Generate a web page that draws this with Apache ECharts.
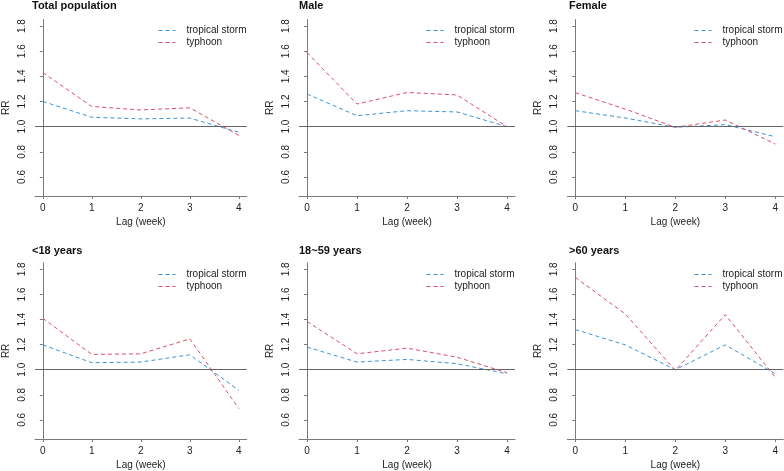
<!DOCTYPE html>
<html>
<head>
<meta charset="utf-8">
<script src="https://cdn.jsdelivr.net/npm/echarts@6/dist/echarts.min.js"></script>
<style>
html,body{margin:0;padding:0;background:#fff;}
#chart{width:784px;height:471px;}
</style>
</head>
<body>
<div id="chart"></div>
<script>
// ---- data ----
const lags = [0, 1, 2, 3, 4];
const panelTitles = ['Total population', 'Male', 'Female', '<18 years', '18~59 years', '>60 years'];
const seriesNames = ['tropical storm', 'typhoon'];
const yTicks = [0.6, 0.8, 1.0, 1.2, 1.4, 1.6, 1.8];

const stormTotal = [1.20, 1.075, 1.062, 1.068, 0.955];
const typhoonTotal = [1.43, 1.16, 1.133, 1.15, 0.93];
const stormMale = [1.26, 1.087, 1.127, 1.117, 1.0];
const typhoonMale = [1.59, 1.18, 1.272, 1.252, 1.0];
const stormFemale = [1.127, 1.069, 0.995, 1.016, 0.92];
const typhoonFemale = [1.27, 1.14, 0.995, 1.053, 0.862];
const stormU18 = [1.198, 1.056, 1.061, 1.119, 0.836];
const typhoonU18 = [1.41, 1.122, 1.127, 1.246, 0.69];
const storm1859 = [1.18, 1.061, 1.082, 1.048, 0.968];
const typhoon1859 = [1.384, 1.127, 1.172, 1.10, 0.976];
const storm60 = [1.32, 1.198, 1.0, 1.198, 0.968];
const typhoon60 = [1.735, 1.444, 0.995, 1.439, 0.94];

const stormSets = [stormTotal, stormMale, stormFemale, stormU18, storm1859, storm60];
const typhoonSets = [typhoonTotal, typhoonMale, typhoonFemale, typhoonU18, typhoon1859, typhoon60];

// ---- layout ----
const colLeft = [31.3, 299, 567.3];
const colWidth = [215.4, 216, 216];
const rowTop = [19.5, 262.8];
const rowHeight = [176.6, 176.6];
const legendLeft = [158, 426, 694];
const legendTop = [25.5, 269.5];
const titleLeft = [32, 299, 569];
const titleTop = [0, 245];

const stormColor = '#3d93d6';
const typhoonColor = '#dc4f6a';
const axisColor = '#7a7a7a';
const font = 'Liberation Sans, Arial, sans-serif';

const grids = [], xAxes = [], yAxes = [], series = [], titles = [], legends = [];
for (let p = 0; p < 6; p++) {
  const r = Math.floor(p / 3), c = p % 3;
  grids.push({left: colLeft[c], top: rowTop[r], width: colWidth[c], height: rowHeight[r]});
  titles.push({
    text: panelTitles[p], left: titleLeft[c], top: titleTop[r], padding: 0,
    textStyle: {fontFamily: font, fontSize: 11, fontWeight: 'bold', color: '#111'}
  });
  xAxes.push({
    type: 'value', gridIndex: p, min: -0.16, max: 4.16,
    name: 'Lag (week)', nameLocation: 'middle', nameGap: 21,
    nameTextStyle: {fontFamily: font, fontSize: 10, color: '#222'},
    axisLine: {show: true, onZero: false, lineStyle: {color: axisColor, width: 1}},
    axisTick: {show: true, length: 3, customValues: lags, lineStyle: {color: axisColor}},
    axisLabel: {customValues: lags, fontFamily: font, fontSize: 10, color: '#222', margin: 7},
    splitLine: {show: false}
  });
  yAxes.push({
    type: 'value', gridIndex: p, min: 0.448, max: 1.852,
    name: 'RR', nameLocation: 'middle', nameGap: 24, nameRotate: 90,
    nameTextStyle: {fontFamily: font, fontSize: 10, color: '#222'},
    axisLine: {show: true, lineStyle: {color: axisColor, width: 1}},
    axisTick: {show: true, length: 3, customValues: yTicks, lineStyle: {color: axisColor}},
    axisLabel: {customValues: yTicks, rotate: 90, fontFamily: font, fontSize: 10, color: '#222', margin: 8,
      formatter: v => v.toFixed(1)},
    splitLine: {show: false}
  });
  series.push({
    name: seriesNames[0], type: 'line', xAxisIndex: p, yAxisIndex: p,
    data: lags.map((x, i) => [x, stormSets[p][i]]),
    symbol: 'none', lineStyle: {color: stormColor, width: 1, type: [4, 3]},
    itemStyle: {color: stormColor}, z: 3,
    markLine: {
      silent: true, symbol: 'none', label: {show: false},
      lineStyle: {color: '#666', width: 1, type: 'solid'},
      data: [{yAxis: 1.0}]
    }
  });
  series.push({
    name: seriesNames[1], type: 'line', xAxisIndex: p, yAxisIndex: p,
    data: lags.map((x, i) => [x, typhoonSets[p][i]]),
    symbol: 'none', lineStyle: {color: typhoonColor, width: 1, type: [4, 3]},
    itemStyle: {color: typhoonColor}, z: 3
  });
  legends.push({
    left: legendLeft[c], top: legendTop[r], orient: 'vertical', padding: 0,
    itemWidth: 17, itemHeight: 10, itemGap: 2,
    itemStyle: {opacity: 0},
    lineStyle: {width: 1, type: [4, 3]},
    textStyle: {fontFamily: font, fontSize: 10, color: '#222', padding: [0, 0, 0, 6]},
    data: seriesNames
  });
}

const chart = echarts.init(document.getElementById('chart'), null, {renderer: 'canvas'});
chart.setOption({
  animation: false,
  backgroundColor: '#fff',
  title: titles,
  legend: legends,
  grid: grids,
  xAxis: xAxes,
  yAxis: yAxes,
  series: series
});
</script>
</body>
</html>
